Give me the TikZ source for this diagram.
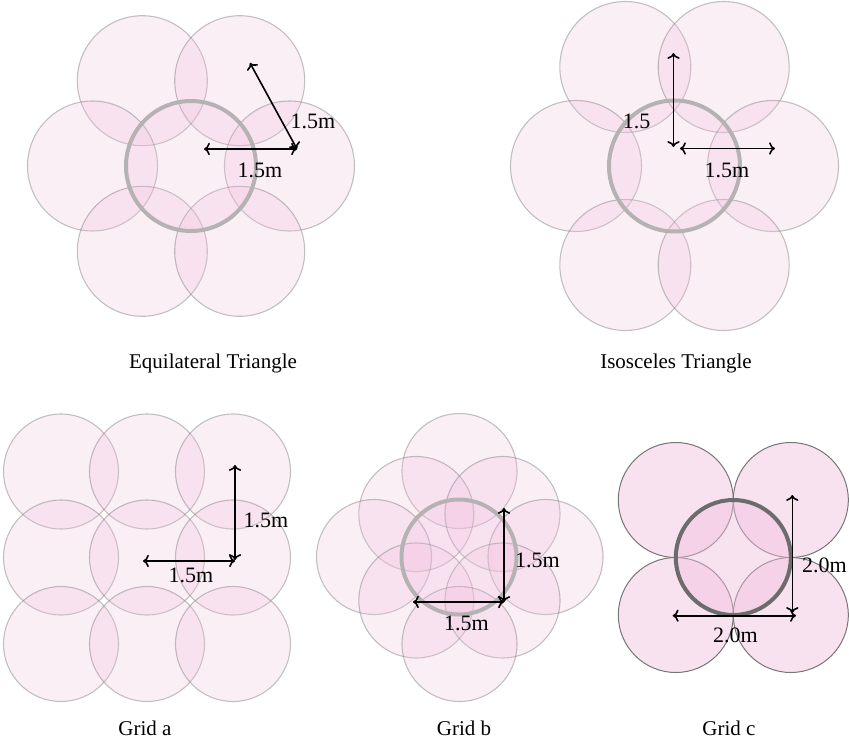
\documentclass[tikz,border=0pt]{standalone}
\usepackage{fontspec}
\setmainfont{Liberation Serif}
\usetikzlibrary{arrows.meta}

\definecolor{petal}{RGB}{240,190,220}
\definecolor{rim}{RGB}{120,124,122}
\definecolor{hubrim}{RGB}{180,178,179}
\definecolor{rimdark}{RGB}{118,118,118}
\definecolor{hubdark}{RGB}{108,108,108}

\tikzset{
  x=1bp, y=-1bp,
  disc/.style={circle, inner sep=0pt, outer sep=0pt, minimum size=#1,
    fill=petal, fill opacity=0.25, draw=rim, draw opacity=0.45, line width=1.1bp},
  hub/.style={disc=#1, draw=hubrim, draw opacity=1, line width=4bp},
  discdark/.style={disc=#1, fill opacity=0.45, draw=rimdark, draw opacity=1, line width=1bp},
  hubdark/.style={discdark=#1, draw=hubdark, line width=4bp},
  dim/.style={{To[scale=1.15]}-{To[scale=1.15]}, line width=1.6bp, black},
  lbl/.style={font=\fontsize{22bp}{26bp}\selectfont, inner sep=0pt, anchor=base, text opacity=1},
  caption/.style={lbl, font=\fontsize{21bp}{25bp}\selectfont},
}

\begin{document}
\begin{tikzpicture}
\useasboundingbox (0,0) rectangle (849,741);

% ---------- Equilateral triangle layout ----------
\begin{scope}
  \node[disc=130bp] (eTL) at (142.3,80.7) {};
  \node[disc=130bp] (eTR) at (239.7,80.7) {};
  \node[disc=130bp] (eML) at (92.5,166) {};
  \node[disc=130bp] (eMR) at (289.5,166) {};
  \node[disc=130bp] (eBL) at (142.3,251.3) {};
  \node[disc=130bp] (eBR) at (239.7,251.3) {};
  \node[hub=130bp]  (eC)  at (191,166) {};
  \coordinate (eO) at (297,149);
  \coordinate (eH) at (204,149);
  \coordinate (eD) at (250,63);
  \draw[dim] (eH) -- (eO);
  \draw[dim] (eO) -- (eD);
  \node[lbl] (eLd) at (313,128) {1.5m};
  \node[lbl] (eLh) at (260,177) {1.5m};
  \node[caption] (eCap) at (213,368) {Equilateral Triangle};
\end{scope}

% ---------- Isosceles triangle layout ----------
\begin{scope}
  \node[disc=131bp] (iTL) at (625.3,67) {};
  \node[disc=131bp] (iTR) at (723.7,67) {};
  \node[disc=131bp] (iML) at (576,166) {};
  \node[disc=131bp] (iMR) at (773,166) {};
  \node[disc=131bp] (iBL) at (625.3,265) {};
  \node[disc=131bp] (iBR) at (723.7,265) {};
  \node[hub=131bp]  (iC)  at (674.5,166) {};
  \coordinate (iV0) at (673.5,147);
  \coordinate (iV1) at (673.5,53);
  \coordinate (iH0) at (680,148.5);
  \coordinate (iH1) at (775,148.5);
  \draw[dim] (iV0) -- (iV1);
  \draw[dim] (iH0) -- (iH1);
  \node[lbl] (iLv) at (636.5,128) {1.5};
  \node[lbl] (iLh) at (727,177) {1.5m};
  \node[caption] (iCap) at (676,368) {Isosceles Triangle};
\end{scope}

% ---------- Grid a ----------
\begin{scope}
  \foreach \c/\x in {1/61,2/147,3/233}{
    \foreach \r/\y in {1/471.5,2/557.5,3/644}{
      \node[disc=115bp] (a\r\c) at (\x,\y) {};
    }
  }
  \coordinate (aV0) at (235,465);
  \coordinate (aV1) at (235,560);
  \coordinate (aH0) at (143,561);
  \coordinate (aH1) at (235,561);
  \draw[dim] (aV1) -- (aV0);
  \draw[dim] (aH0) -- (aH1);
  \node[lbl] (aLv) at (266,527) {1.5m};
  \node[lbl] (aLh) at (191,582) {1.5m};
  \node[caption] (aCap) at (145,735) {Grid a};
\end{scope}

% ---------- Grid b ----------
\begin{scope}
  \node[disc=115bp] (bN)  at (459.5,471) {};
  \node[disc=115bp] (bNW) at (416.3,514) {};
  \node[disc=115bp] (bNE) at (502.5,514) {};
  \node[disc=115bp] (bW)  at (374,557) {};
  \node[disc=115bp] (bE)  at (545.5,557) {};
  \node[disc=115bp] (bSW) at (416.3,600.5) {};
  \node[disc=115bp] (bSE) at (502.5,600.5) {};
  \node[disc=115bp] (bS)  at (459.5,644) {};
  \node[hub=115bp]  (bC)  at (459,557) {};
  \coordinate (bV0) at (504,602);
  \coordinate (bV1) at (504,508);
  \coordinate (bH0) at (413,602);
  \draw[dim] (bV0) -- (bV1);
  \draw[dim] (bH0) -- (bV0);
  \node[lbl] (bLv) at (537.5,567) {1.5m};
  \node[lbl] (bLh) at (466.5,630) {1.5m};
  \node[caption] (bCap) at (464,735) {Grid b};
\end{scope}

% ---------- Grid c ----------
\begin{scope}
  \node[discdark=115bp] (cNW) at (675.8,500) {};
  \node[discdark=115bp] (cNE) at (790.8,500) {};
  \node[discdark=115bp] (cSW) at (675.8,615) {};
  \node[discdark=115bp] (cSE) at (790.8,615) {};
  \node[hubdark=115bp]  (cC)  at (733.3,557.5) {};
  \coordinate (cV0) at (792.3,613);
  \coordinate (cV1) at (792.3,495);
  \coordinate (cH0) at (672.7,615.7);
  \coordinate (cH1) at (796,615.7);
  \draw[dim] (cV0) -- (cV1);
  \draw[dim] (cH0) -- (cH1);
  \node[lbl, anchor=base west] (cLv) at (802,572) {2.0m};
  \node[lbl] (cLh) at (735.5,642) {2.0m};
  \node[caption] (cCap) at (729,735) {Grid c};
\end{scope}

\end{tikzpicture}
\end{document}
